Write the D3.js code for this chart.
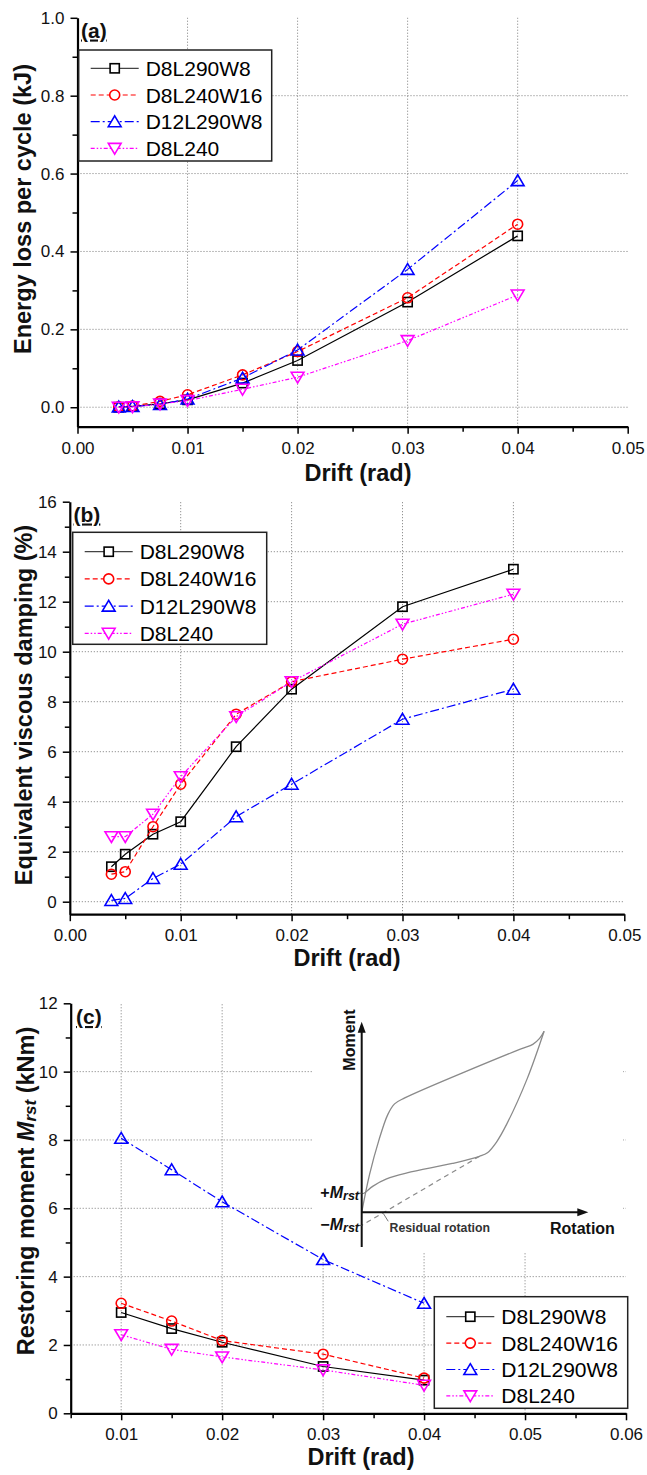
<!DOCTYPE html>
<html>
<head>
<meta charset="utf-8">
<script src="https://cdn.jsdelivr.net/npm/d3@7"></script>
<style>
  html, body { margin: 0; padding: 0; background: #fff; }
  svg { display: block; }
  text { font-family: "Liberation Sans", Arial, sans-serif; }
</style>
</head>
<body>
<script>
// ---------------- DATA ----------------
const seriesNames = ["D8L290W8", "D8L240W16", "D12L290W8", "D8L240"];

// Panel (a) & (b) drift levels (rad)
const driftAB = [0.00375, 0.005, 0.0075, 0.01, 0.015, 0.02, 0.03, 0.04];
// Panel (a): energy loss per cycle (kJ)
const energyD8L290W8  = [0.000, 0.002, 0.009, 0.019, 0.062, 0.120, 0.270, 0.440];
const energyD8L240W16 = [0.001, 0.003, 0.015, 0.032, 0.083, 0.143, 0.281, 0.470];
const energyD12L290W8 = [0.001, 0.002, 0.007, 0.021, 0.075, 0.147, 0.354, 0.582];
const energyD8L240    = [0.000, 0.001, 0.008, 0.017, 0.046, 0.077, 0.171, 0.288];
// Panel (b): equivalent viscous damping (%)
const dampD8L290W8  = [1.4, 1.9, 2.7, 3.2, 6.2, 8.5, 11.8, 13.3];
const dampD8L240W16 = [1.1, 1.2, 3.0, 4.7, 7.5, 8.8, 9.7, 10.5];
const dampD12L290W8 = [0.05, 0.13, 0.93, 1.5, 3.4, 4.7, 7.3, 8.5];
const dampD8L240    = [2.6, 2.6, 3.5, 5.0, 7.4, 8.8, 11.1, 12.3];
// Panel (c): restoring moment (kNm)
const driftC = [0.01, 0.015, 0.02, 0.03, 0.04];
const rstD8L290W8  = [2.95, 2.48, 2.08, 1.37, 0.97];
const rstD8L240W16 = [3.22, 2.70, 2.13, 1.73, 1.03];
const rstD12L290W8 = [8.05, 7.13, 6.19, 4.50, 3.22];
const rstD8L240    = [2.30, 1.87, 1.65, 1.27, 0.82];

// Ticks
const xTicksAB = [0, 0.01, 0.02, 0.03, 0.04, 0.05];
const xMinorAB = [0.005, 0.015, 0.025, 0.035, 0.045];
const xTicksC  = [0.01, 0.02, 0.03, 0.04, 0.05, 0.06];
const xMinorC  = [0.005, 0.015, 0.025, 0.035, 0.045, 0.055];
const yTicksA = [0, 0.2, 0.4, 0.6, 0.8, 1.0];
const yMinorA = [0.1, 0.3, 0.5, 0.7, 0.9];
const yTicksB = [0, 2, 4, 6, 8, 10, 12, 14, 16];
const yMinorB = [1, 3, 5, 7, 9, 11, 13, 15];
const yTicksC = [0, 2, 4, 6, 8, 10, 12];
const yMinorC = [1, 3, 5, 7, 9, 11];

// Inset schematic (arbitrary rotation / moment units)
const loopUpper = [[0,0],[0.35,1.6],[0.75,3.0],[1.15,4.1],[1.45,4.55],[1.9,4.8],[7.0,6.85],[7.55,7.05],[7.85,7.3],[8.05,7.6]];
const loopLower = [[8.05,7.6],[7.3,5.6],[6.4,3.7],[5.95,2.95],[5.55,2.5],[5.2,2.35],[4.0,2.05],[2.0,1.65],[1.1,1.4],[0.5,1.1],[0.1,0.8],[0.02,0.78]];
const residualLine = [[5.2,2.35],[0,-0.55]];
const mrstPlus = 0.8, mrstMinus = -0.55, residualRot = 0.95;

// ---------------- DRAWING ----------------
const W = 647, H = 1475;
const svg = d3.select("body").append("svg").attr("width", W).attr("height", H);
svg.append("rect").attr("width", W).attr("height", H).attr("fill", "#fff");

const colors = ["#000000", "#ff0000", "#0000ff", "#ff00ff"];
const dashes = [null, "5,3", "9,3,2,3", "4,2,1.5,2,1.5,2"];
const shapes = ["square", "circle", "triangle", "triangleDown"];

function drawMarker(g, shape, cx, cy, color, fill) {
  const sw = 1.6;
  fill = fill || "none";
  if (shape === "square") {
    g.append("rect").attr("x", cx - 4.6).attr("y", cy - 4.6).attr("width", 9.2).attr("height", 9.2)
      .attr("fill", fill).attr("stroke", color).attr("stroke-width", sw);
  } else if (shape === "circle") {
    g.append("circle").attr("cx", cx).attr("cy", cy).attr("r", 5)
      .attr("fill", fill).attr("stroke", color).attr("stroke-width", sw);
  } else if (shape === "triangle") {
    g.append("path").attr("d", `M${cx},${cy-5.8}L${cx+6.4},${cy+5}L${cx-6.4},${cy+5}Z`)
      .attr("fill", fill).attr("stroke", color).attr("stroke-width", sw).attr("stroke-linejoin", "miter");
  } else {
    g.append("path").attr("d", `M${cx},${cy+5.8}L${cx+6.4},${cy-5}L${cx-6.4},${cy-5}Z`)
      .attr("fill", fill).attr("stroke", color).attr("stroke-width", sw).attr("stroke-linejoin", "miter");
  }
}

function panel(cfg) {
  const x = d3.scaleLinear().domain(cfg.xDomain).range(cfg.xRange);
  const y = d3.scaleLinear().domain(cfg.yDomain).range(cfg.yRange);
  const g = svg.append("g");
  const [x0, x1] = cfg.xRange, [yb, yt] = cfg.yRange;

  // grid
  g.append("g").selectAll("line").data(cfg.yGrid).join("line")
    .attr("x1", x0).attr("x2", x1).attr("y1", d => y(d)).attr("y2", d => y(d))
    .attr("stroke", "#7a7a7a").attr("stroke-width", 1).attr("stroke-dasharray", "1,2");
  g.append("g").selectAll("line").data(cfg.xGrid).join("line")
    .attr("x1", d => x(d)).attr("x2", d => x(d)).attr("y1", yb).attr("y2", yt)
    .attr("stroke", "#7a7a7a").attr("stroke-width", 1).attr("stroke-dasharray", "1,2");

  if (cfg.inset) cfg.inset(g);

  // axes
  g.append("g").attr("transform", `translate(0,${yb})`)
    .call(d3.axisBottom(x).tickValues(cfg.xTicks).tickFormat(d3.format(".2f")).tickSize(7).tickSizeOuter(0).tickPadding(8));
  g.append("g").attr("transform", `translate(0,${yb})`)
    .call(d3.axisBottom(x).tickValues(cfg.xMinor).tickFormat("").tickSize(5).tickSizeOuter(0))
    .call(s => s.select(".domain").remove());
  g.append("g").attr("transform", `translate(${x0},0)`)
    .call(d3.axisLeft(y).tickValues(cfg.yTicks).tickFormat(cfg.yFormat).tickSize(7).tickSizeOuter(0).tickPadding(6));
  g.append("g").attr("transform", `translate(${x0},0)`)
    .call(d3.axisLeft(y).tickValues(cfg.yMinor).tickFormat("").tickSize(5).tickSizeOuter(0))
    .call(s => s.select(".domain").remove());
  g.selectAll(".domain").attr("stroke", "#000").attr("stroke-width", 2.2);
  g.selectAll(".tick line").attr("stroke", "#000").attr("stroke-width", 1.5);
  g.selectAll(".tick text").attr("font-size", "17px").attr("fill", "#111")
    .attr("font-family", "'Liberation Sans', Arial, sans-serif");

  // series
  const line = d3.line().x(d => x(d[0])).y(d => y(d[1]));
  cfg.series.forEach((vals, i) => {
    const pts = cfg.xs.map((xv, k) => [xv, vals[k]]);
    g.append("path").attr("d", line(pts)).attr("fill", "none")
      .attr("stroke", colors[i]).attr("stroke-width", 1.2)
      .attr("stroke-dasharray", dashes[i]);
    const mg = g.append("g");
    pts.forEach(p => drawMarker(mg, shapes[i], x(p[0]), y(p[1]), colors[i]));
  });

  // legend
  const L = cfg.legend;
  const lg = g.append("g");
  lg.append("rect").attr("x", L.x).attr("y", L.y).attr("width", L.w).attr("height", L.h)
    .attr("fill", "#fff").attr("stroke", "#222").attr("stroke-width", 1.5);
  seriesNames.forEach((name, i) => {
    const ry = L.y + L.first + i * L.step;
    lg.append("line").attr("x1", L.x + 12).attr("x2", L.x + 60).attr("y1", ry).attr("y2", ry)
      .attr("stroke", i === 0 ? "#444" : colors[i]).attr("stroke-width", 1.2).attr("stroke-dasharray", dashes[i]);
    drawMarker(lg, shapes[i], L.x + 36, ry, colors[i], "#fff");
    lg.append("text").attr("x", L.x + 67).attr("y", ry + 7.5).attr("font-size", "21px").attr("fill", "#000")
      .text(name);
  });

  // panel label
  g.append("text").attr("x", cfg.label.x).attr("y", cfg.label.y).attr("font-size", "21px")
    .attr("font-weight", "bold").attr("text-decoration", "underline").attr("fill", "#111").text(cfg.label.t);

  // x title
  g.append("text").attr("x", cfg.xTitle.x).attr("y", cfg.xTitle.y).attr("text-anchor", "middle")
    .attr("font-size", "23.5px").attr("font-weight", "bold").attr("fill", "#111").text("Drift (rad)");
  // y title
  const yt_ = g.append("text").attr("transform", `translate(${cfg.yTitle.x},${cfg.yTitle.y}) rotate(-90)`)
    .attr("text-anchor", "middle").attr("font-size", "23.5px").attr("font-weight", "bold").attr("fill", "#111");
  cfg.yTitle.build(yt_);
  return { x, y, g };
}

// Panel (a)
panel({
  xDomain: [0, 0.05], xRange: [77.5, 627.7],
  yDomain: [-0.05, 1.0], yRange: [426.7, 17.8],
  xTicks: xTicksAB, xMinor: xMinorAB, yTicks: yTicksA, yMinor: yMinorA,
  yFormat: d3.format(".1f"),
  xGrid: [0.01, 0.02, 0.03, 0.04], yGrid: [0, 0.2, 0.4, 0.6, 0.8],
  xs: driftAB,
  series: [energyD8L290W8, energyD8L240W16, energyD12L290W8, energyD8L240],
  legend: { x: 78.7, y: 50, w: 193, h: 111, first: 18.3, step: 26.7 },
  label: { x: 81, y: 37.5, t: "(a)" },
  xTitle: { x: 358, y: 480.5 },
  yTitle: { x: 31, y: 209, build: t => t.text("Energy loss per cycle (kJ)") }
});

// Panel (b)
panel({
  xDomain: [0, 0.05], xRange: [69.8, 624.3],
  yDomain: [-0.5, 16], yRange: [914.2, 501.7],
  xTicks: xTicksAB, xMinor: xMinorAB, yTicks: yTicksB, yMinor: yMinorB,
  yFormat: d3.format("d"),
  xGrid: [0.01, 0.02, 0.03, 0.04], yGrid: [0, 2, 4, 6, 8, 10, 12, 14],
  xs: driftAB,
  series: [dampD8L290W8, dampD8L240W16, dampD12L290W8, dampD8L240],
  legend: { x: 72.7, y: 532.3, w: 194, h: 112, first: 19.4, step: 27.2 },
  label: { x: 73.5, y: 521.5, t: "(b)" },
  xTitle: { x: 347, y: 966 },
  yTitle: { x: 32, y: 705, build: t => t.text("Equivalent viscous damping (%)") }
});

// Panel (c)
panel({
  xDomain: [0.005, 0.06], xRange: [70.7, 626],
  yDomain: [0, 12], yRange: [1413.3, 1003.3],
  xTicks: xTicksC, xMinor: xMinorC, yTicks: yTicksC, yMinor: yMinorC,
  yFormat: d3.format("d"),
  xGrid: [0.01, 0.02, 0.03, 0.04, 0.05], yGrid: [2, 4, 6, 8, 10],
  xs: driftC,
  series: [rstD8L290W8, rstD8L240W16, rstD12L290W8, rstD8L240],
  legend: { x: 434.3, y: 1296.7, w: 193.4, h: 111.6, first: 20, step: 26.4 },
  label: { x: 76, y: 1024, t: "(c)" },
  xTitle: { x: 361, y: 1465 },
  yTitle: { x: 34, y: 1191, build: t => {
    t.append("tspan").text("Restoring moment ");
    t.append("tspan").attr("font-style", "italic").text("M");
    t.append("tspan").attr("font-style", "italic").attr("font-size", "17px").attr("dy", 2).text("rst");
    t.append("tspan").attr("dy", -2).text(" (kNm)");
  } },
  inset: g => {
    g.append("rect").attr("x", 313).attr("y", 998).attr("width", 310).attr("height", 254).attr("fill", "#fff");
    const ix = d3.scaleLinear().domain([0, 10]).range([361.7, 588.3]);
    const iy = d3.scaleLinear().domain([0, 8]).range([1212.3, 1021.7]);
    const ig = g.append("g");
    const il = d3.line().x(d => ix(d[0])).y(d => iy(d[1])).curve(d3.curveCatmullRom.alpha(0.5));
    ig.append("path").attr("d", il(loopUpper)).attr("fill", "none").attr("stroke", "#8a8a8a").attr("stroke-width", 1.3);
    ig.append("path").attr("d", il(loopLower)).attr("fill", "none").attr("stroke", "#8a8a8a").attr("stroke-width", 1.3);
    ig.append("path").attr("d", d3.line().x(d => ix(d[0])).y(d => iy(d[1]))(residualLine))
      .attr("fill", "none").attr("stroke", "#8a8a8a").attr("stroke-width", 1.2).attr("stroke-dasharray", "5,4");
    // axes arrows
    ig.append("line").attr("x1", ix(0)).attr("x2", ix(0)).attr("y1", 1247).attr("y2", iy(8) + 8)
      .attr("stroke", "#111").attr("stroke-width", 2);
    ig.append("path").attr("d", `M${ix(0)},${iy(8)}L${ix(0)+4},${iy(8)+11}L${ix(0)-4},${iy(8)+11}Z`).attr("fill", "#111");
    ig.append("line").attr("x1", ix(0)).attr("x2", ix(10) - 8).attr("y1", iy(0)).attr("y2", iy(0))
      .attr("stroke", "#111").attr("stroke-width", 2);
    ig.append("path").attr("d", `M${ix(10)},${iy(0)}L${ix(10)-11},${iy(0)-4}L${ix(10)-11},${iy(0)+4}Z`).attr("fill", "#111");
    // Mrst ticks
    [mrstPlus, mrstMinus].forEach(m => ig.append("line").attr("x1", ix(0) - 4).attr("x2", ix(0))
      .attr("y1", iy(m)).attr("y2", iy(m)).attr("stroke", "#555").attr("stroke-width", 1));
    // residual rotation leader
    ig.append("line").attr("x1", ix(residualRot)).attr("y1", iy(0) + 1).attr("x2", ix(residualRot) + 5).attr("y2", iy(0) + 9)
      .attr("stroke", "#777").attr("stroke-width", 1);
    // labels
    ig.append("text").attr("transform", `translate(355,1040) rotate(-90)`).attr("text-anchor", "middle")
      .attr("font-size", "16px").attr("font-weight", "bold").attr("fill", "#111").text("Moment");
    ig.append("text").attr("x", 550).attr("y", 1233.5).attr("font-size", "16px").attr("font-weight", "bold")
      .attr("fill", "#111").text("Rotation");
    ig.append("text").attr("x", 389.5).attr("y", 1232).attr("font-size", "12.3px").attr("font-weight", "bold")
      .attr("fill", "#333").text("Residual rotation");
    const mk = (yy, sign) => {
      const t = ig.append("text").attr("x", 359).attr("y", yy).attr("text-anchor", "end")
        .attr("font-size", "16px").attr("font-weight", "bold").attr("fill", "#111");
      t.append("tspan").text(sign);
      t.append("tspan").attr("font-style", "italic").text("M");
      t.append("tspan").attr("font-style", "italic").attr("font-size", "12.5px").attr("dy", 2).text("rst");
    };
    mk(iy(mrstPlus) + 5, "+");
    mk(iy(mrstMinus) + 5, "\u2212");
  }
});
</script>
</body>
</html>
